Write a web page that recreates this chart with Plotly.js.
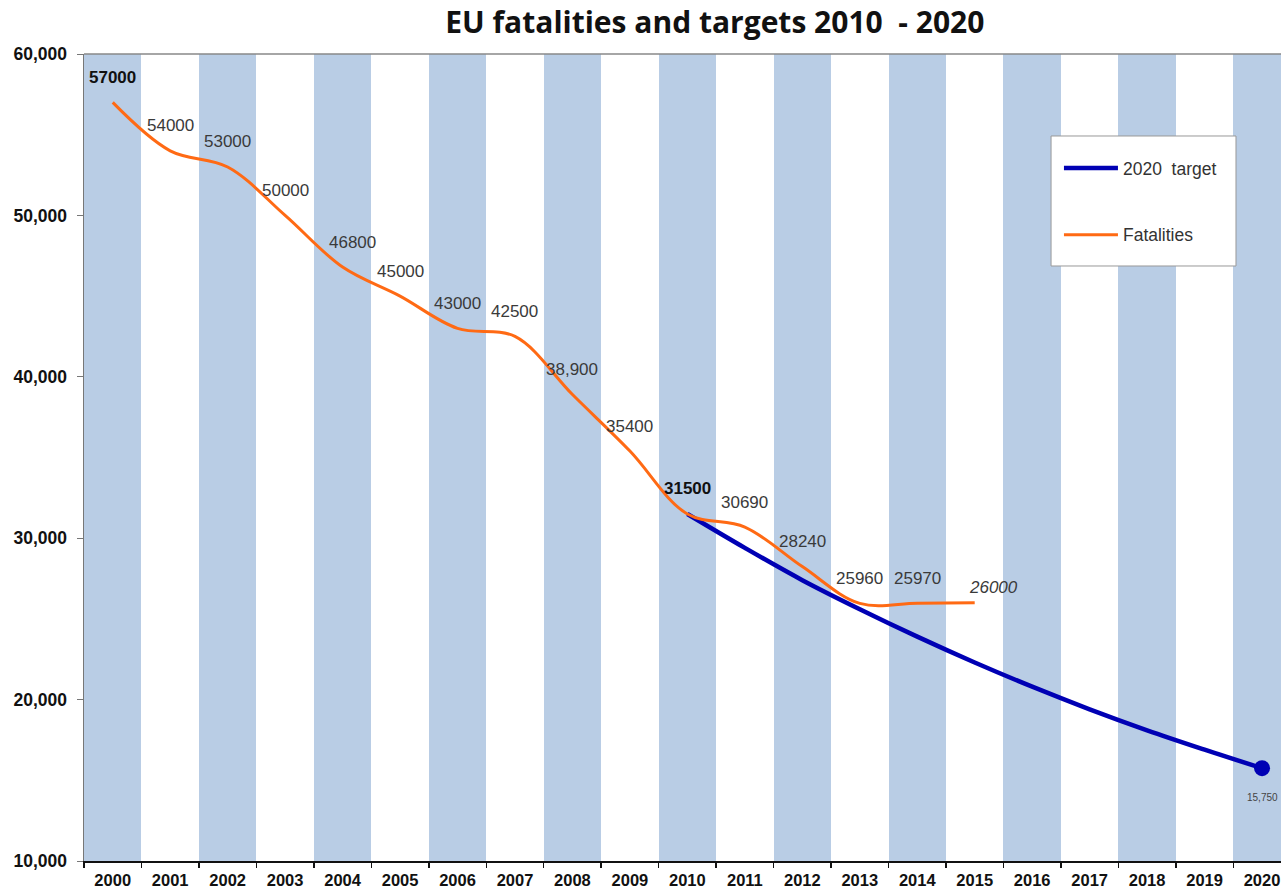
<!DOCTYPE html>
<html>
<head>
<meta charset="utf-8">
<script src="https://cdn.plot.ly/plotly-3.0.1.min.js"></script>
<style>html,body{margin:0;padding:0;background:#fff;}#chart{width:1281px;height:891px;}</style>
</head>
<body>
<div id="chart"></div>
<script>
// ---- data ----
const allYears = [2000,2001,2002,2003,2004,2005,2006,2007,2008,2009,2010,2011,2012,2013,2014,2015,2016,2017,2018,2019,2020];
const shadedYears = [2000,2002,2004,2006,2008,2010,2012,2014,2016,2018,2020];
const fatalYears = [2000,2001,2002,2003,2004,2005,2006,2007,2008,2009,2010,2011,2012,2013,2014,2015];
const fatalities = [57000,54000,53000,50000,46800,45000,43000,42500,38900,35400,31500,30690,28240,25960,25970,26000];
const fatalLabels = ['<b>57000</b>','54000','53000','50000','46800','45000','43000','42500','38,900','35400','<b>31500</b>','30690','28240','25960','25970','<i>26000</i>'];
const targetYears = [2010,2011,2012,2013,2014,2015,2016,2017,2018,2019,2020];
const target = [31500,29400,27400,25600,23900,22300,20800,19400,18100,16900,15750];
const targetEndLabel = '15,750';
const yMin = 10000, yMax = 60000;

// ---- styling ----
const bandColor = '#b9cde5';
const blue = '#0000b4';
const orange = '#ff6a14';
const labelFont = {family:'Liberation Sans, Arial, sans-serif', size:17, color:'#3a3a3a'};
const lastIdx = fatalYears.length - 1;
const labelXShift = fatalYears.map((y,i)=> i===lastIdx ? 19 : (i===4 ? 10 : 0));
const labelYShift = fatalYears.map((y,i)=> i===lastIdx ? 15 : 25);

const boundaries = allYears.map(y=>y-0.5).concat([allYears[allYears.length-1]+0.5]);

const traces = [
  {type:'bar', x:shadedYears, y:shadedYears.map(()=>yMax-yMin), base:yMin, width:1,
   marker:{color:bandColor, line:{width:0}}, showlegend:false, hoverinfo:'skip'},
  {type:'scatter', mode:'lines', x:targetYears, y:target, name:'2020  target',
   line:{color:blue, width:4.5, shape:'spline'}, legendrank:1, legendgroup:'a'},
  {type:'scatter', mode:'markers', x:[targetYears[targetYears.length-1]], y:[target[target.length-1]],
   marker:{color:blue, size:16}, showlegend:false, hoverinfo:'skip'},
  {type:'scatter', mode:'lines', x:fatalYears, y:fatalities, name:'Fatalities',
   line:{color:orange, width:3, shape:'spline', smoothing:1}, legendrank:2, legendgroup:'b'},
  {type:'scatter', mode:'lines', x:[allYears[0], allYears[allYears.length-1]], y:[yMin,yMin], xaxis:'x2',
   line:{width:0}, showlegend:false, hoverinfo:'skip'}
];

const annotations = fatalYears.map((yr,i)=>({
  x:yr, y:fatalities[i], text:fatalLabels[i], showarrow:false, yshift:labelYShift[i], xshift:labelXShift[i],
  font:Object.assign({}, labelFont, {color: fatalLabels[i].startsWith('<b>') ? '#111' : '#3a3a3a'})
}));
annotations.push({x:targetYears[targetYears.length-1], y:target[target.length-1], text:targetEndLabel,
  showarrow:false, yshift:-29, font:{family:'Liberation Sans, Arial, sans-serif', size:10, color:'#444'}});

const layout = {
  width:1281, height:891,
  margin:{l:84, r:0, t:54, b:30},
  paper_bgcolor:'#fff', plot_bgcolor:'#fff',
  title:{text:'<b>EU fatalities and targets 2010  - 2020</b>', x:0.558, xanchor:'center', y:0.975, yanchor:'middle',
    font:{family:'Open Sans, sans-serif', size:30, color:'#111'}},
  xaxis:{range:[1999.5, 2020.33], tickvals:allYears, ticktext:allYears.map(String),
    ticks:'outside', ticklen:3, tickcolor:'rgba(0,0,0,0)',
    showline:true, linecolor:'#111', linewidth:2, showgrid:false, zeroline:false,
    tickfont:{family:'Liberation Sans, Arial, sans-serif', size:16.5, color:'#111', weight:'bold'}},
  xaxis2:{overlaying:'x', anchor:'y', side:'bottom', range:[1999.5, 2020.33], tickvals:boundaries,
    ticks:'outside', ticklen:6, tickcolor:'#111', tickwidth:1.5, showticklabels:false,
    showline:false, showgrid:false, zeroline:false},
  yaxis:{range:[yMin,yMax], dtick:10000, tickformat:',d', ticks:'outside', ticklen:6, tickcolor:'#777',
    showline:true, linecolor:'#777', linewidth:1.5, showgrid:false, zeroline:false, ticklabelstandoff:6,
    tickfont:{family:'Liberation Sans, Arial, sans-serif', size:17.5, color:'#111', weight:'bold'}},
  shapes:[
    {type:'line', xref:'paper', yref:'paper', x0:0, x1:1, y0:1, y1:1, line:{color:'#888', width:1.5}},
    {type:'rect', xref:'paper', yref:'paper', x0:0.8079, x1:0.9624, y0:0.7373, y1:0.8984, layer:'above',
     fillcolor:'#fff', line:{color:'#999', width:1}}
  ],
  showlegend:true,
  legend:{x:0.8145, y:0.881, xanchor:'left', yanchor:'top', bgcolor:'rgba(0,0,0,0)', borderwidth:0,
    traceorder:'grouped', tracegroupgap:41, itemwidth:54,
    font:{family:'Liberation Sans, Arial, sans-serif', size:17.5, color:'#333'}},
  annotations:annotations,
  bargap:0
};

Plotly.newPlot('chart', traces, layout, {displayModeBar:false, staticPlot:true});
</script>
</body>
</html>
